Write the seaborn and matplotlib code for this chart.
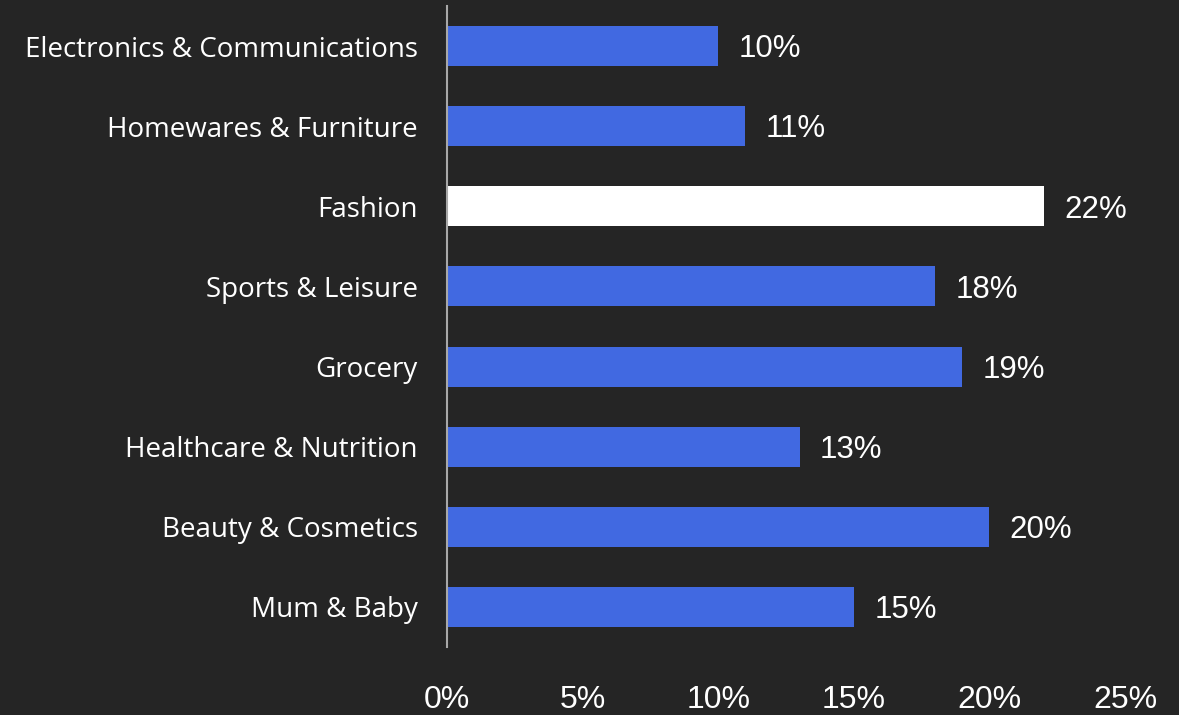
import matplotlib
matplotlib.use('Agg')
import matplotlib.pyplot as plt
import seaborn as sns
import pandas as pd

# Chart data
categories = ['Electronics & Communications', 'Homewares & Furniture', 'Fashion',
              'Sports & Leisure', 'Grocery', 'Healthcare & Nutrition',
              'Beauty & Cosmetics', 'Mum & Baby']
shares = [10, 11, 22, 18, 19, 13, 20, 15]
highlight = 'Fashion'
x_ticks = [0, 5, 10, 15, 20, 25]

bg = '#252525'
blue = '#4169E1'

df = pd.DataFrame({'category': categories, 'share': shares})
palette = {c: ('#ffffff' if c == highlight else blue) for c in categories}

sns.set_style('dark')
plt.rcParams['font.family'] = ['Liberation Sans', 'DejaVu Sans']

fig = plt.figure(figsize=(11.79, 7.15), dpi=100, facecolor=bg)
ax = fig.add_axes([447 / 1179, 1 - 647 / 715, (1125 - 447) / 1179, (647 - 6) / 715])
ax.set_facecolor(bg)

sns.barplot(data=df, y='category', x='share', hue='category', palette=palette,
            order=categories, width=0.5, saturation=1, legend=False,
            linewidth=0, edgecolor='none', ax=ax)

ax.set_xlim(0, 25)
ax.set_ylim(7.5, -0.5)
ax.set_xticks(x_ticks)
ax.set_xticklabels([f'{t}%' for t in x_ticks], fontsize=23, color='white')
ax.tick_params(axis='x', length=0, pad=27)
ax.tick_params(axis='y', length=0, pad=21)
for lbl in ax.get_yticklabels():
    lbl.set_fontfamily(['Open Sans', 'DejaVu Sans'])
    lbl.set_fontsize(20)
    lbl.set_color('white')
ax.set_xlabel('')
ax.set_ylabel('')
ax.grid(False)

for side in ['top', 'right', 'bottom']:
    ax.spines[side].set_visible(False)
ax.spines['left'].set_color('#a8a8a8')
ax.spines['left'].set_linewidth(1.5)

for i, v in enumerate(shares):
    ax.text(v + 0.75, i + 0.04, f'{v}%', va='center', ha='left', fontsize=22.5, color='white')

fig.savefig('out.png', dpi=100, facecolor=bg)
